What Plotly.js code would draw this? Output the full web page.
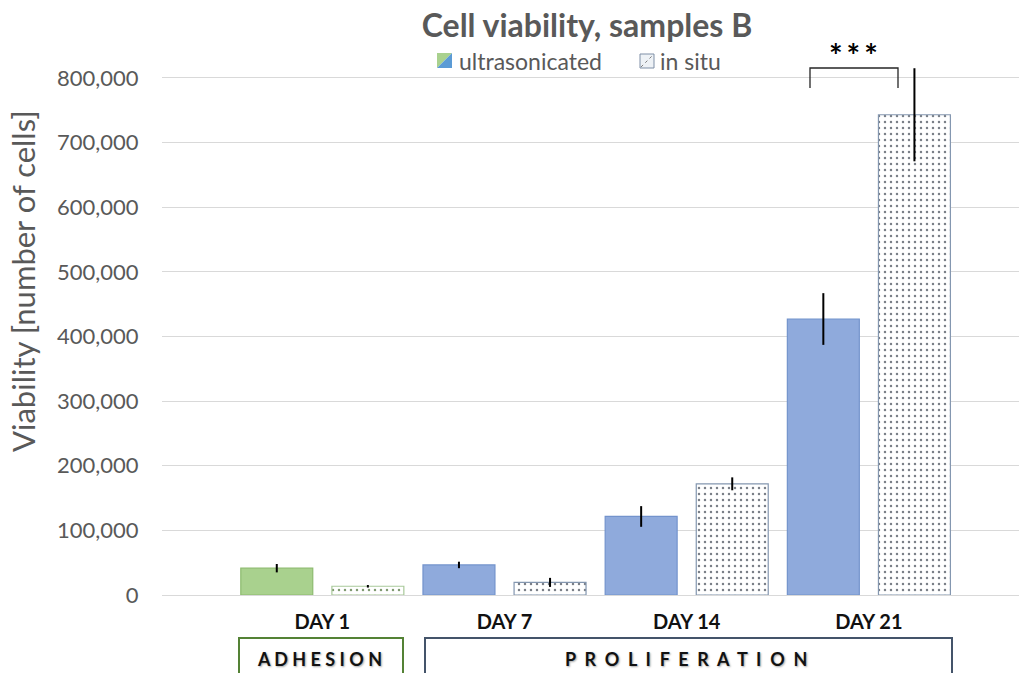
<!DOCTYPE html>
<html>
<head>
<meta charset="utf-8">
<script src="https://cdn.plot.ly/plotly-3.0.1.min.js"></script>
<style>html,body{margin:0;padding:0;background:#fff;}#chart{width:1019px;height:673px;}</style>
</head>
<body>
<div id="chart"></div>
<script>
// ---- data ----
var days = ["DAY 1", "DAY 7", "DAY 14", "DAY 21"];
var ultrasonicated = [41500, 46500, 121500, 427000];
var ultrasonicatedErr = [6500, 5000, 16000, 40000];
var inSitu = [13500, 19500, 172000, 743000];
var inSituErr = [2000, 7000, 10000, 72000];
var phaseLabels = ["A\u00A0D\u00A0H\u00A0E\u00A0S\u00A0I\u00A0O\u00A0N", "P\u00A0\u00A0R\u00A0\u00A0O\u00A0\u00A0L\u00A0\u00A0I\u00A0\u00A0F\u00A0\u00A0E\u00A0\u00A0R\u00A0\u00A0A\u00A0\u00A0T\u00A0\u00A0I\u00A0\u00A0O\u00A0\u00A0N"];
var significance = "*\u2009*\u2009*";

// ---- layout helpers (pixel -> paper) ----
var L = 162, R = 0, T = 65, B = 78, W = 1019, H = 673;
var pw = W - L - R, ph = H - T - B;
function px(x) { return (x - L) / pw; }
function py(y) { return (H - B - y) / ph; }

var FONT = "Lato, 'Open Sans', sans-serif";
var GRAY = "#595959";

var ultraColors = ["#a9d18e", "#8faadc", "#8faadc", "#8faadc"];
var ultraLines = ["#8dbb6f", "#7393cc", "#7393cc", "#7393cc"];
var situLines = ["#a9c99a", "#8497b0", "#8497b0", "#8497b0"];
var situDots = ["#7f9a70", "#7a7f88", "#7a7f88", "#7a7f88"];

var traces = [
  {
    type: "bar", name: "ultrasonicated", x: days, y: ultrasonicated,
    marker: { color: ultraColors, line: { color: ultraLines, width: 1.2 } },
    error_y: { type: "data", array: ultrasonicatedErr, visible: true, width: 0, thickness: 2, color: "#000" },
    cliponaxis: false, hoverinfo: "y"
  },
  {
    type: "bar", name: "in situ", x: days, y: inSitu,
    marker: {
      color: "#ffffff",
      line: { color: situLines, width: 1.2 },
      pattern: { shape: ".", fgcolor: situDots, bgcolor: "#ffffff", size: 6, solidity: 0.13 }
    },
    error_y: { type: "data", array: inSituErr, visible: true, width: 0, thickness: 2, color: "#000" },
    cliponaxis: false, hoverinfo: "y"
  }
];

function P(pts) {
  return "M " + pts.map(function (p) { return px(p[0]) + "," + py(p[1]); }).join(" L ");
}

var shapes = [
  // legend icon: ultrasonicated (split green / blue)
  { type: "path", xref: "paper", yref: "paper", path: P([[437, 53], [452, 53], [437, 68]]) + " Z", fillcolor: "#a9d18e", line: { width: 0 } },
  { type: "path", xref: "paper", yref: "paper", path: P([[452, 53], [452, 68], [437, 68]]) + " Z", fillcolor: "#5b9bd5", line: { width: 0 } },
  // legend icon: in situ
  { type: "rect", xref: "paper", yref: "paper", x0: px(640), x1: px(654), y0: py(68), y1: py(54), fillcolor: "#eef2f6", line: { color: "#7f8fa6", width: 1 } },
  { type: "line", xref: "paper", yref: "paper", x0: px(641), x1: px(653), y0: py(67), y1: py(55), line: { color: "#7f7f7f", width: 1, dash: "dot" } },
  // significance bracket
  { type: "path", xref: "paper", yref: "paper", path: P([[810, 88], [810, 68], [898, 68], [898, 88]]), line: { color: "#262626", width: 1.3 } },
  // phase boxes
  { type: "rect", xref: "paper", yref: "paper", x0: px(239), x1: px(403), y0: py(690), y1: py(638), line: { color: "#548235", width: 2 }, fillcolor: "rgba(0,0,0,0)" },
  { type: "rect", xref: "paper", yref: "paper", x0: px(425), x1: px(952), y0: py(690), y1: py(638), line: { color: "#44546a", width: 2 }, fillcolor: "rgba(0,0,0,0)" }
];

var annotations = [
  { xref: "paper", yref: "paper", x: px(457), y: py(61), xanchor: "left", yanchor: "middle", text: "ultrasonicated", showarrow: false, font: { family: FONT, size: 23, color: GRAY } },
  { xref: "paper", yref: "paper", x: px(658), y: py(61), xanchor: "left", yanchor: "middle", text: "in situ", showarrow: false, font: { family: FONT, size: 23, color: GRAY } },
  { xref: "paper", yref: "paper", x: px(853), y: py(56), xanchor: "center", yanchor: "middle", text: "<b>" + significance + "</b>", showarrow: false, font: { family: FONT, size: 32, color: "#000" } },
  { xref: "paper", yref: "paper", x: px(319), y: py(659), xanchor: "center", yanchor: "middle", text: "<b>" + phaseLabels[0] + "</b>", showarrow: false, font: { family: FONT, size: 18, color: "#111", shadow: "1px 1px 2px rgba(0,0,0,0.35)" } },
  { xref: "paper", yref: "paper", x: px(686), y: py(659), xanchor: "center", yanchor: "middle", text: "<b>" + phaseLabels[1] + "</b>", showarrow: false, font: { family: FONT, size: 18, color: "#111", shadow: "1px 1px 2px rgba(0,0,0,0.35)" } },
  { xref: "paper", yref: "paper", x: px(23), y: py(281), xanchor: "center", yanchor: "middle", textangle: -90, text: "Viability [number of cells]", showarrow: false, font: { family: FONT, size: 31, color: GRAY } }
];

var layout = {
  width: W, height: H,
  margin: { l: L, r: R, t: T, b: B, pad: 0 },
  paper_bgcolor: "#ffffff", plot_bgcolor: "#ffffff",
  showlegend: false,
  barmode: "group", bargap: 0.0, bargroupgap: 0.21,
  title: {
    text: "<b>Cell viability, samples B</b>",
    xref: "container", yref: "container", x: 587 / W, y: 1 - 26 / H, xanchor: "center", yanchor: "middle",
    font: { family: FONT, size: 32, color: GRAY }
  },
  xaxis: {
    type: "category", range: [-0.88, 3.824], fixedrange: true,
    showgrid: false, showline: true, linecolor: "#d9d9d9", linewidth: 1,
    ticks: "outside", ticklen: 9, tickcolor: "rgba(0,0,0,0)",
    tickfont: { family: FONT, size: 20, color: "#111" },
    tickprefix: "<b>", ticksuffix: "</b>"
  },
  yaxis: {
    range: [0, 820000], dtick: 100000, tick0: 0, tickformat: ",d", fixedrange: true,
    showgrid: true, gridcolor: "#d9d9d9", gridwidth: 1,
    zeroline: false, showline: false,
    ticks: "outside", ticklen: 18, tickcolor: "rgba(0,0,0,0)",
    tickfont: { family: FONT, size: 22, color: GRAY }
  },
  shapes: shapes,
  annotations: annotations
};

Plotly.newPlot("chart", traces, layout, { displayModeBar: false, staticPlot: true });
</script>
</body>
</html>
